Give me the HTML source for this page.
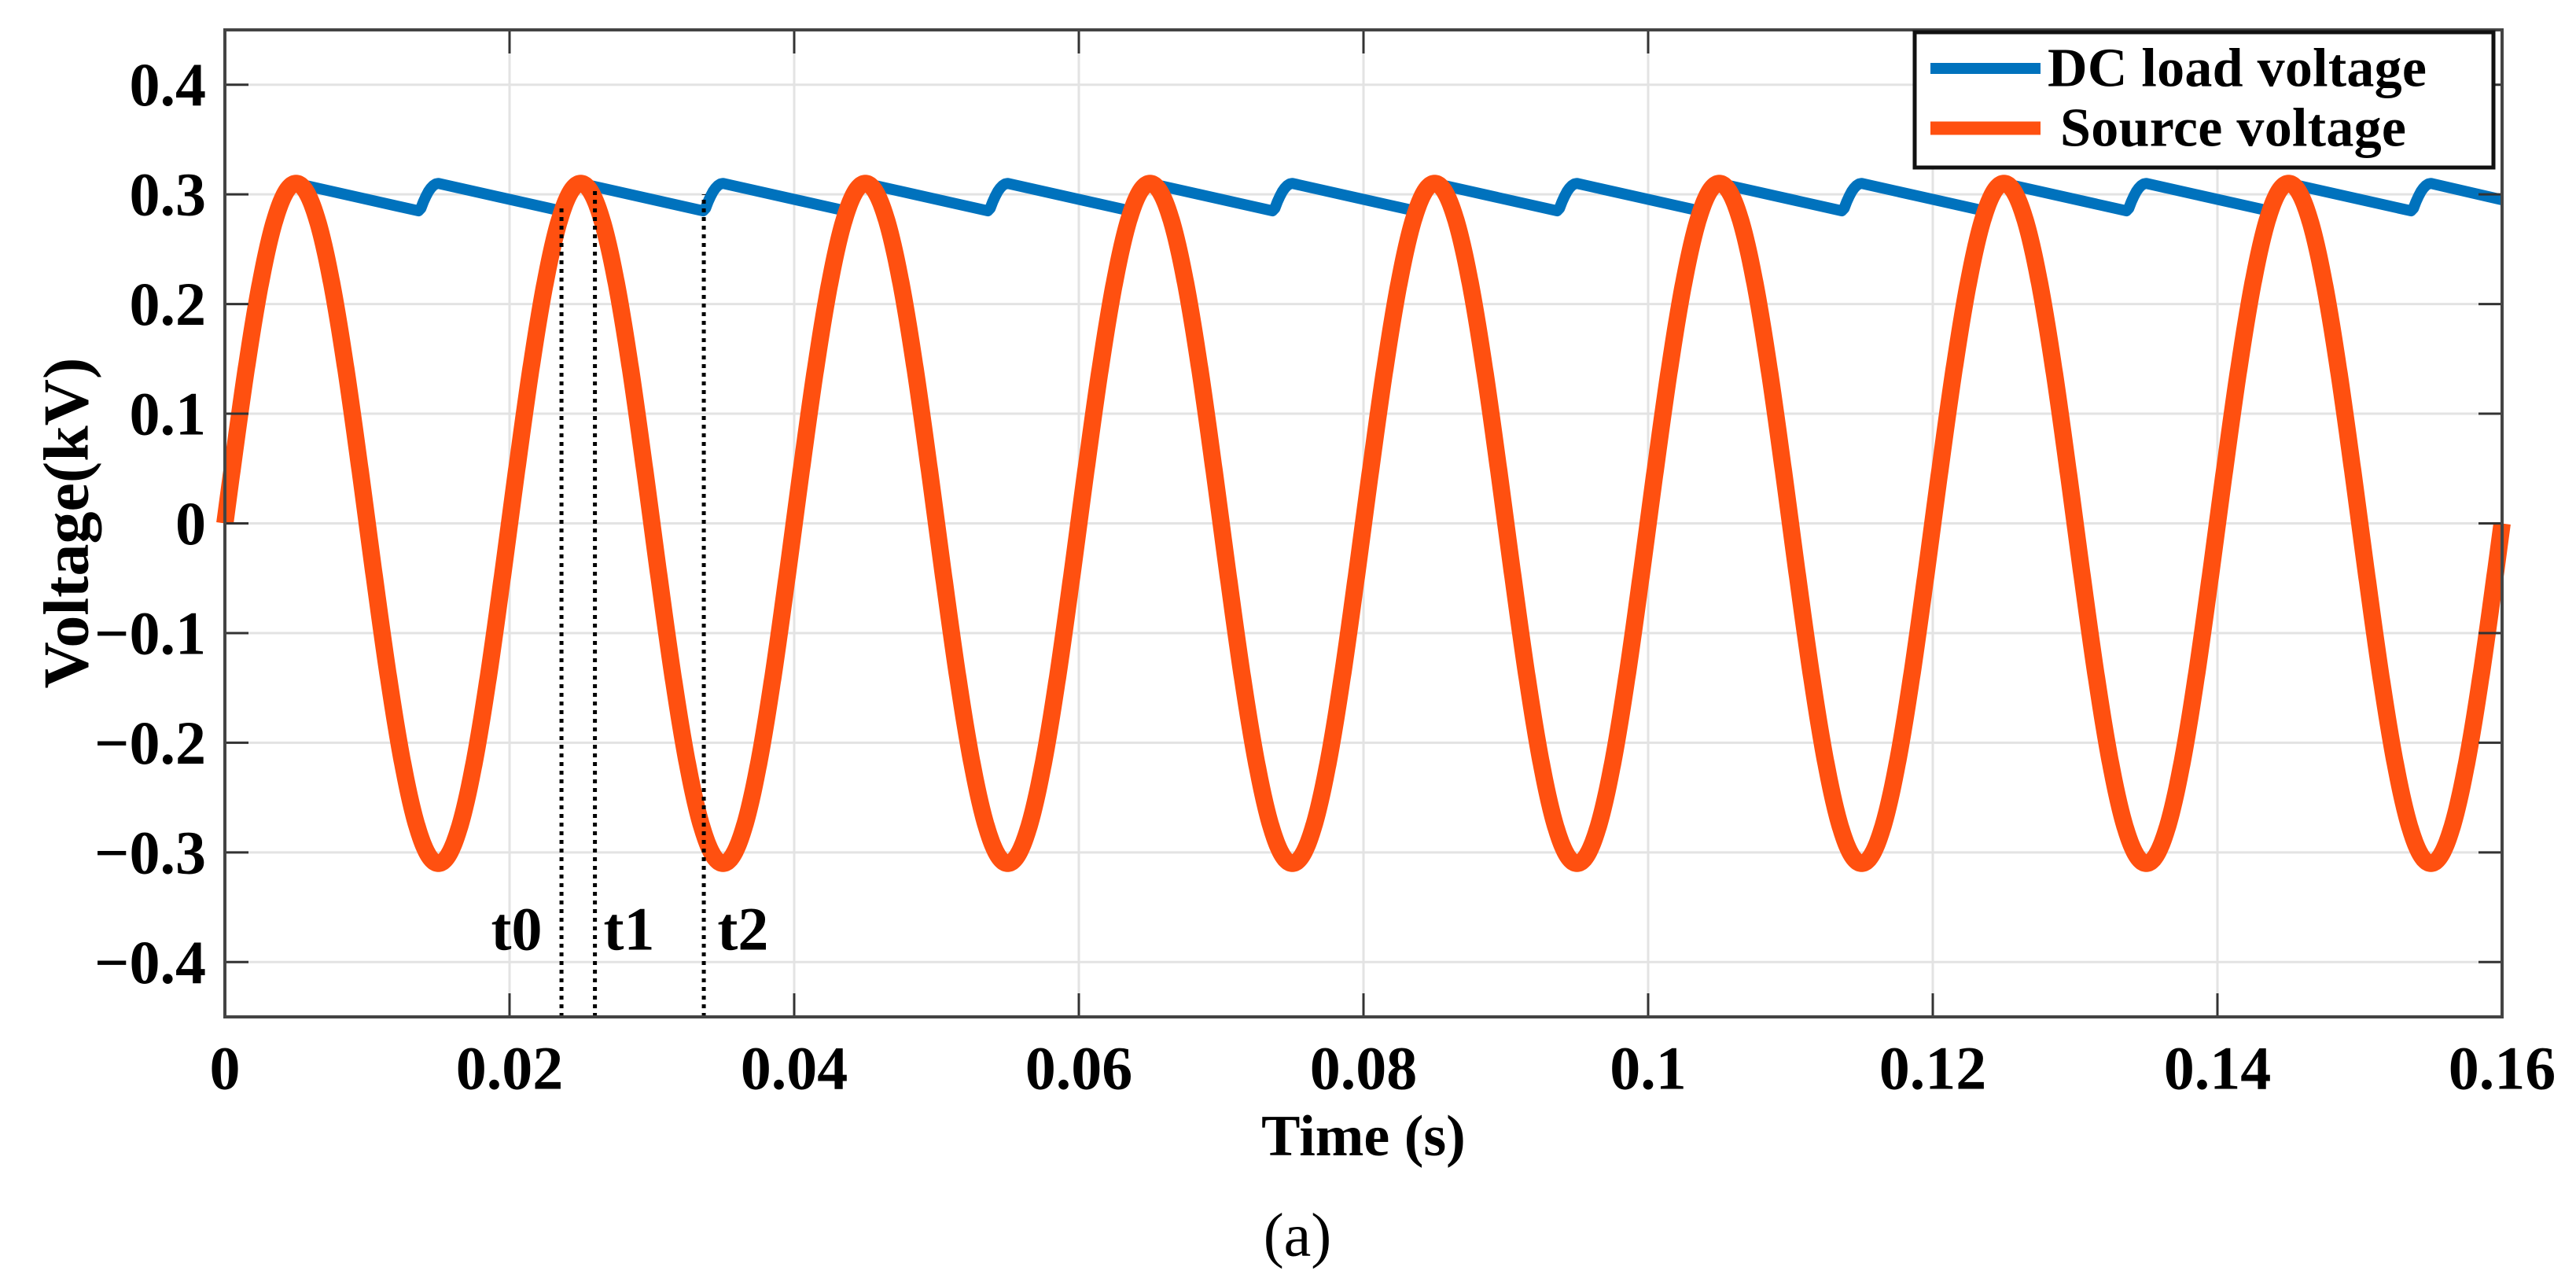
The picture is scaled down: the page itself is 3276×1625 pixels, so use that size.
<!DOCTYPE html>
<html><head><meta charset="utf-8"><style>
html,body{margin:0;padding:0;background:#fff;}
svg{display:block;}
text{font-family:"Liberation Serif",serif;}
</style></head><body>
<svg id="chart" width="3276" height="1625" viewBox="0 0 3276 1625" xmlns="http://www.w3.org/2000/svg">
<rect width="3276" height="1625" fill="#fff"/>
<g id="grid"></g>
<g id="series"></g>
<g id="marks"></g>
<g id="axes"></g>
<text x="84" y="665" transform="rotate(-90 84 665)" text-anchor="middle" dominant-baseline="central" font-size="82" font-weight="bold">Voltage(kV)</text>
<text x="1734" y="1445" text-anchor="middle" dominant-baseline="central" font-size="74" font-weight="bold">Time (s)</text>
<text x="1650" y="1570" text-anchor="middle" dominant-baseline="central" font-size="78">(a)</text>
<g>
<rect x="2435" y="41" width="736" height="172" fill="#fff" stroke="#111" stroke-width="5"/>
<line x1="2455" y1="87" x2="2595" y2="87" stroke="#0072BD" stroke-width="14"/>
<text x="2604" y="87" dominant-baseline="central" font-size="70" font-weight="bold" textLength="482">DC load voltage</text>
<line x1="2455" y1="163" x2="2595" y2="163" stroke="#FF5010" stroke-width="17"/>
<text x="2620" y="163" dominant-baseline="central" font-size="70" font-weight="bold" textLength="440">Source voltage</text>
</g>
</svg>
<script>
// ---- data ----
const xTicks = [0,0.02,0.04,0.06,0.08,0.1,0.12,0.14,0.16];
const xTickLabels = ["0","0.02","0.04","0.06","0.08","0.1","0.12","0.14","0.16"];
const yTicks = [-0.4,-0.3,-0.2,-0.1,0,0.1,0.2,0.3,0.4];
const yTickLabels = ["\u22120.4","\u22120.3","\u22120.2","\u22120.1","0","0.1","0.2","0.3","0.4"];
const sourceAmplitude = 0.31;       // kV peak
const sourceFrequency = 50;         // Hz
const dcPeakTimes = [0.005,0.015,0.025,0.035,0.045,0.055,0.065,0.075,0.085,0.095,0.105,0.115,0.125,0.135,0.145,0.155];
const dcPeakValues = [0.31,0.31,0.31,0.31,0.31,0.31,0.31,0.31,0.31,0.31,0.31,0.31,0.31,0.31,0.31,0.31];
const dcValleyTimes = [0.0136,0.0236,0.0336,0.0436,0.0536,0.0636,0.0736,0.0836,0.0936,0.1036,0.1136,0.1236,0.1336,0.1436,0.1536];
const dcValleyValues = [0.285,0.285,0.285,0.285,0.285,0.285,0.285,0.285,0.285,0.285,0.285,0.285,0.285,0.285,0.285];
const dcEnd = [0.16,0.295];
const markerTimes = [0.02365,0.026,0.03365];
const markerTops = [0.29,0.305,0.30];
const markerLabels = ["t0","t1","t2"];
const markerLabelTimes = [0.0205,0.0284,0.0364];

// ---- axes ----
const X0=286,X1=3182,Y0=38,Y1=1293, xmin=0,xmax=0.16,ymin=-0.45,ymax=0.45;
const sx=v=>X0+(v-xmin)/(xmax-xmin)*(X1-X0);
const sy=v=>Y1-(v-ymin)/(ymax-ymin)*(Y1-Y0);
const NS="http://www.w3.org/2000/svg";
function mk(tag,attrs,parent){const e=document.createElementNS(NS,tag);for(const k in attrs)e.setAttribute(k,attrs[k]);parent.appendChild(e);return e;}
const grid=document.getElementById('grid'),axes=document.getElementById('axes'),series=document.getElementById('series'),marks=document.getElementById('marks');

xTicks.forEach((t,i)=>{
  const g=mk('line',{x1:sx(t),x2:sx(t),y1:Y0,y2:Y1,stroke:'#e3e3e3','stroke-width':3},grid);
  
  
  const tk=mk('line',{x1:sx(t),x2:sx(t),y1:Y1,y2:Y1-30,stroke:'#333','stroke-width':3},axes);
  
  
  const tk2=mk('line',{x1:sx(t),x2:sx(t),y1:Y0,y2:Y0+30,stroke:'#333','stroke-width':3},axes);
  
  
  const lb=mk('text',{x:sx(t),y:1358,'text-anchor':'middle','dominant-baseline':'central','font-size':78,'font-weight':'bold'},axes);
  lb.textContent=xTickLabels[i];
  
  
});
yTicks.forEach((v,i)=>{
  const g=mk('line',{x1:X0,x2:X1,y1:sy(v),y2:sy(v),stroke:'#e3e3e3','stroke-width':3},grid);
  
  
  const tk=mk('line',{x1:X0,x2:X0+30,y1:sy(v),y2:sy(v),stroke:'#333','stroke-width':3},axes);
  
  
  const tk2=mk('line',{x1:X1,x2:X1-30,y1:sy(v),y2:sy(v),stroke:'#333','stroke-width':3},axes);
  
  
  const lb=mk('text',{x:262,y:sy(v),'text-anchor':'end','dominant-baseline':'central','font-size':78,'font-weight':'bold'},axes);
  lb.textContent=yTickLabels[i];
  
  
});
const frame=mk('rect',{x:X0,y:Y0,width:X1-X0,height:Y1-Y0,fill:'none',stroke:'#444','stroke-width':4},axes);



// ---- source voltage ----
let d='';
for(let i=0;i<=3200;i++){const t=xmax*i/3200;const v=sourceAmplitude*Math.sin(2*Math.PI*sourceFrequency*t);d+=(i?'L':'M')+sx(t).toFixed(1)+' '+sy(v).toFixed(1);}

// ---- DC load voltage ----
let dd='';
for(let k=0;k<dcPeakTimes.length;k++){
  dd+=(k?'L':'M')+sx(dcPeakTimes[k]).toFixed(1)+' '+sy(dcPeakValues[k]).toFixed(1);
  if(k<dcValleyTimes.length){
    dd+='L'+sx(dcValleyTimes[k]).toFixed(1)+' '+sy(dcValleyValues[k]).toFixed(1);
    const ta=dcValleyTimes[k],tb=dcPeakTimes[k+1];
    for(let j=1;j<=8;j++){const t=ta+(tb-ta)*j/8;const v=Math.max(dcValleyValues[k],Math.abs(dcPeakValues[k+1]*Math.sin(2*Math.PI*sourceFrequency*t)));dd+='L'+sx(t).toFixed(1)+' '+sy(v).toFixed(1);}
  }
}
dd+='L'+sx(dcEnd[0]).toFixed(1)+' '+sy(dcEnd[1]).toFixed(1);
const dc=mk('path',{d:dd,fill:'none',stroke:'#0072BD','stroke-width':14,'stroke-linejoin':'round'},series);


const src=mk('path',{d:d,fill:'none',stroke:'#FF5010','stroke-width':22,'stroke-linejoin':'round'},series);



// ---- markers ----
markerTimes.forEach((t,i)=>{
  const l=mk('line',{x1:sx(t),x2:sx(t),y1:Y1,y2:sy(markerTops[i]),stroke:'#000','stroke-width':5,'stroke-dasharray':'5 6'},marks);
  
  
  const lb=mk('text',{x:sx(markerLabelTimes[i]),y:1181,'text-anchor':'middle','dominant-baseline':'central','font-size':78,'font-weight':'bold'},marks);
  lb.textContent=markerLabels[i];
  
  
});
</script>
</body></html>
